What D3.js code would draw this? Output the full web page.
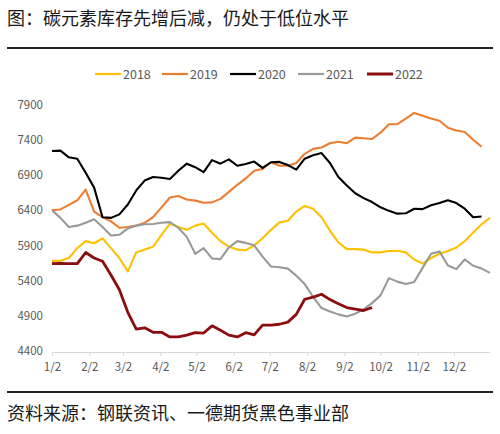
<!DOCTYPE html>
<html><head><meta charset="utf-8">
<script src="https://cdn.jsdelivr.net/npm/d3@7/dist/d3.min.js"></script>
<style>
html,body{margin:0;padding:0;background:#fff;}
svg{display:block;}
text{font-family:"Noto Sans CJK SC","Noto Sans",sans-serif;}
</style></head>
<body>
<script>
const titleText = "图：碳元素库存先增后减，仍处于低位水平";
const sourceText = "资料来源：钢联资讯、一德期货黑色事业部";
const seriesNames = ["2018","2019","2020","2021","2022"];
const seriesColors = ["#FFC000","#ED7D31","#000000","#999999","#8B0D0D"];
const yTicks = [4400,4900,5400,5900,6400,6900,7400,7900];
const xTickDays = [1,32,60,91,121,152,182,213,244,274,305,335];
const xTickLabels = ["1/2","2/2","3/2","4/2","5/2","6/2","7/2","8/2","9/2","10/2","11/2","12/2"];
// weekly values (one point per week, starting 1/2)
const v2018 = [5680,5680,5720,5860,5960,5930,6000,5860,5720,5530,5800,5840,5880,6050,6210,6160,6120,6180,6210,6080,5960,5880,5840,5830,5900,6000,6120,6226,6250,6380,6460,6420,6300,6110,5940,5847,5847,5840,5800,5800,5820,5823,5800,5700,5640,5720,5780,5820,5870,5960,6080,6200,6290];
const v2019 = [6400,6410,6475,6540,6690,6380,6300,6240,6150,6160,6180,6220,6300,6440,6580,6600,6550,6535,6505,6510,6560,6660,6760,6850,6960,6985,7080,7030,7030,7070,7200,7270,7290,7350,7370,7350,7430,7420,7410,7500,7620,7620,7700,7780,7740,7700,7670,7570,7530,7510,7400,7300];
const v2020 = [7240,7245,7150,7130,6930,6720,6300,6290,6340,6480,6680,6820,6870,6860,6843,6960,7060,7010,6940,7110,7060,7120,7030,7055,7090,7000,7080,7085,7040,6975,7130,7180,7210,7070,6870,6750,6640,6570,6515,6440,6390,6350,6355,6420,6415,6470,6500,6540,6500,6420,6300,6310];
const v2021 = [6400,6290,6160,6180,6220,6270,6160,6040,6050,6140,6180,6200,6203,6220,6230,6150,6020,5780,5860,5714,5705,5870,5960,5935,5900,5740,5600,5590,5570,5470,5350,5170,5010,4960,4920,4890,4930,4990,5080,5190,5435,5385,5350,5380,5580,5780,5814,5615,5563,5700,5610,5570,5510];
const v2022 = [5640,5645,5642,5640,5799,5720,5675,5480,5270,4950,4710,4730,4665,4665,4600,4600,4625,4660,4655,4757,4695,4625,4600,4660,4630,4767,4767,4780,4810,4920,5135,5165,5206,5130,5070,5017,4995,4975,5017];
const allValues = [v2018,v2019,v2020,v2021,v2022];

const W = 500, H = 434;
const svg = d3.select("body").append("svg").attr("width",W).attr("height",H);

svg.append("text").attr("x",7).attr("y",25).attr("font-size",18).attr("fill","#1a1a1a").text(titleText);
svg.append("line").attr("x1",7).attr("x2",493).attr("y1",48).attr("y2",48).attr("stroke","#222").attr("stroke-width",2);
svg.append("line").attr("x1",7).attr("x2",493).attr("y1",392).attr("y2",392).attr("stroke","#222").attr("stroke-width",2);
svg.append("text").attr("x",7).attr("y",420).attr("font-size",18).attr("fill","#1a1a1a").text(sourceText);

const x = d3.scaleLinear().domain([1,365]).range([52,490]);
const y = d3.scaleLinear().domain([4400,7900]).range([351,104.5]);

// x axis
const xAxis = d3.axisBottom(x).tickValues(xTickDays).tickFormat((d,i)=>xTickLabels[i]).tickSize(4).tickSizeOuter(0);
const gx = svg.append("g").attr("transform","translate(0,352)").call(xAxis);
gx.select(".domain").attr("stroke","#d9d9d9");
gx.selectAll(".tick line").attr("stroke","#d9d9d9");
gx.selectAll("text").attr("font-size",11.5).attr("fill","#595959").attr("dy","1.05em");

// y axis labels
const yAxis = d3.axisLeft(y).tickValues(yTicks).tickFormat(d3.format("d")).tickSize(0).tickPadding(0);
const gy = svg.append("g").attr("transform","translate(43,0)").call(yAxis);
gy.select(".domain").remove();
gy.selectAll("text").attr("font-size",11.5).attr("fill","#595959");

const line = d3.line().x((d,i)=>x(1+7*i)).y(d=>y(d));
allValues.forEach((vals,k)=>{
  svg.append("path").datum(vals).attr("d",line).attr("fill","none")
    .attr("stroke",seriesColors[k]).attr("stroke-width",k===4?2.8:2.1)
    .attr("stroke-linejoin","round");
});

// legend
const legendX = [95,162,230,298,367];
seriesNames.forEach((n,k)=>{
  const g = svg.append("g").attr("transform",`translate(${legendX[k]},74)`);
  g.append("line").attr("x1",0).attr("x2",26).attr("y1",0).attr("y2",0)
    .attr("stroke",seriesColors[k]).attr("stroke-width",k===4?3:2.2);
  g.append("text").attr("x",28).attr("y",4.5).attr("font-size",12.5).attr("fill","#595959").text(n);
});
</script>
</body></html>
